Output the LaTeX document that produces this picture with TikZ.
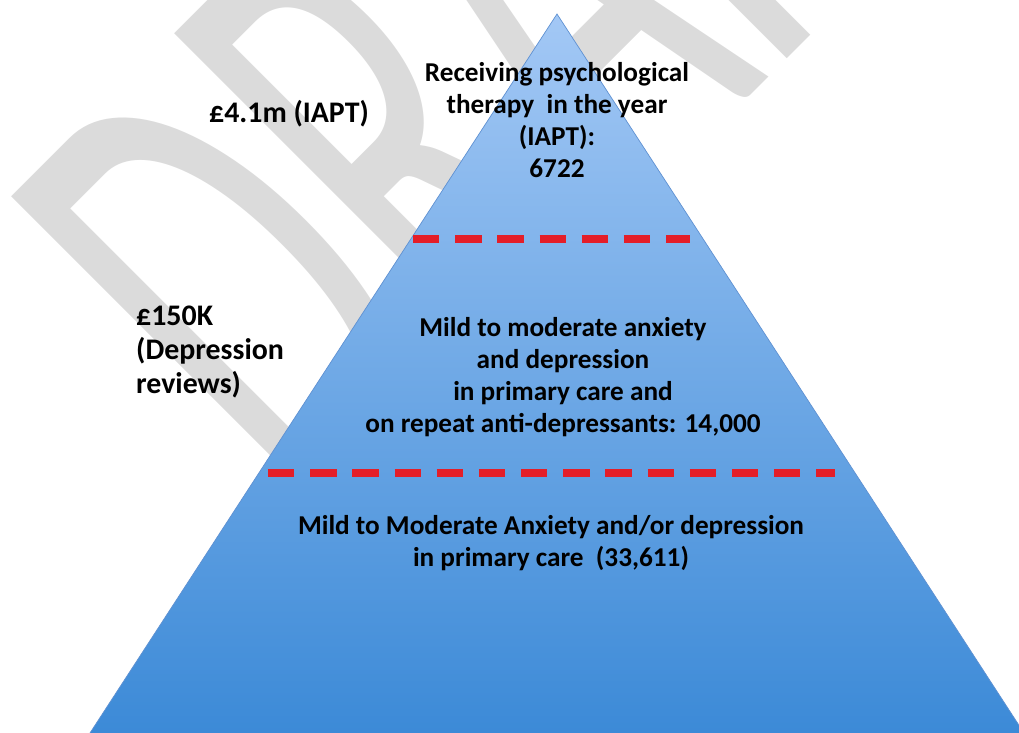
\documentclass[tikz,border=0pt]{standalone}
\usepackage{fontspec}
\setmainfont{Carlito}
\definecolor{draftgrey}{RGB}{219,219,219}
\definecolor{pyrtop}{RGB}{163,200,245}
\definecolor{pyrbot}{RGB}{60,138,215}
\definecolor{pyredge}{RGB}{95,145,210}
\definecolor{cutred}{RGB}{228,30,40}

\begin{document}
\begin{tikzpicture}[x=0.02cm,y=-0.02cm,font=\bfseries\fontsize{15.5}{18.2}\selectfont,
    cut/.style={draw=cutred,line width=4pt,dash pattern=on 15pt off 9pt},
    cost/.style={font=\bfseries\fontsize{17}{19.6}\selectfont}]
  \useasboundingbox (0,0) rectangle (1019,733);
  \clip (0,0) rectangle (1019,733);
  % watermark
  \node[text=draftgrey,font=\mdseries\fontsize{400}{400}\selectfont,anchor=base west,
        inner sep=0pt,rotate=45,xscale=0.53] (draft) at (312,534) {DRAFT};
  % pyramid
  \coordinate (apex) at (557,14);
  \coordinate (baseL) at (90,733);
  \coordinate (baseR) at (1024,733);
  \shade[top color=pyrtop,bottom color=pyrbot] (apex) -- (baseL) -- (baseR) -- cycle;
  \draw[pyredge,line width=0.4pt] (baseL) -- (apex) -- (baseR);
  % tier cuts
  \coordinate (cutA1) at (413,239);
  \coordinate (cutA2) at (690,239);
  \coordinate (cutB1) at (268,473);
  \coordinate (cutB2) at (835,473);
  \draw[cut] (cutA1) -- (cutA2);
  \draw[cut] (cutB1) -- (cutB2);
  % labels
  \node[align=center] (tierTop) at (557,120) {Receiving psychological\\therapy\ \ in the year\\(IAPT):\\6722};
  \node[align=center] (tierMid) at (563,377) {Mild to moderate anxiety\\and depression\\in primary care and\\on repeat anti-depressants: 14,000};
  \node[align=center] (tierBase) at (551,543) {Mild to Moderate Anxiety and/or depression\\in primary care\ \ (33,611)};
  \node[cost] (costTop) at (289,114) {£4.1m (IAPT)};
  \node[cost,align=left,anchor=west] (costMid) at (130,352) {£150K\\(Depression\\reviews)};
\end{tikzpicture}
\end{document}
